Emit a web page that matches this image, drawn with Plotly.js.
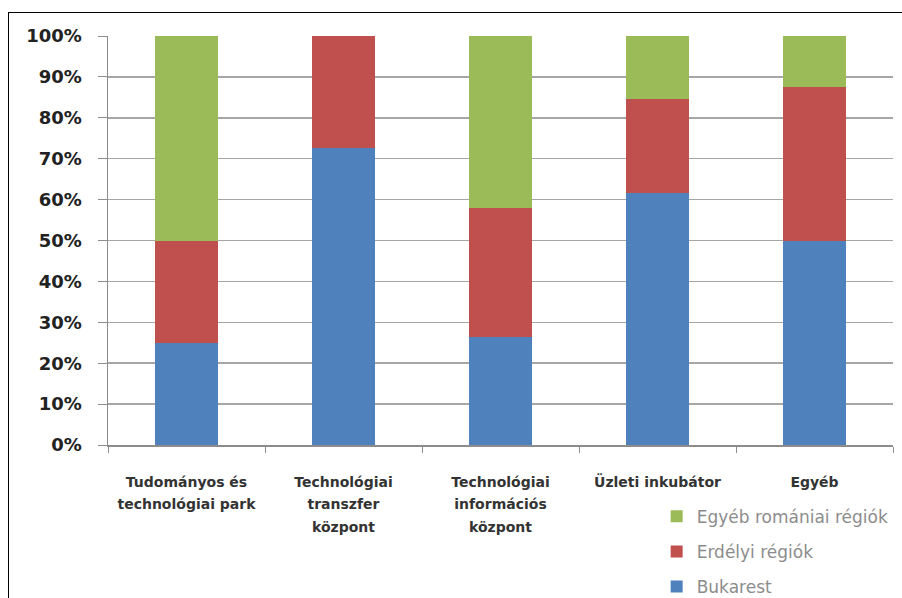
<!DOCTYPE html>
<html><head><meta charset="utf-8">
<script src="https://cdn.plot.ly/plotly-3.0.1.min.js"></script>
<style>
html,body{margin:0;padding:0;background:#fff;overflow:hidden;}
#frame{position:absolute;left:8px;top:12px;width:900px;height:600px;border-left:1.5px solid #000;border-top:1.5px solid #000;}
#chart{position:absolute;left:0;top:0;width:902px;height:598px;}
</style></head>
<body>
<div id="frame"></div>
<div id="chart"></div>
<script>
const categories = ["Tudományos és<br>technológiai park","Technológiai<br>transzfer<br>központ","Technológiai<br>információs<br>központ","Üzleti inkubátor","Egyéb"];
const bukarest = [25, 72.7, 26.3, 61.5, 50];
const erdelyi = [25, 27.3, 31.6, 23.1, 37.5];
const egyeb = [50, 0, 42.1, 15.4, 12.5];
const seriesNames = ["Bukarest","Erdélyi régiók","Egyéb romániai régiók"];
const colors = ["#4f81bd","#c0504d","#9bbb59"];
const yTicks = [0,10,20,30,40,50,60,70,80,90,100];

const data = [bukarest, erdelyi, egyeb].map((v,i)=>({
  type:"bar", x:categories, y:v, name:seriesNames[i], legendgroup:"g"+i,
  legendrank: 3-i,
  marker:{color:colors[i]}, hoverinfo:"none"
}));

const tickText = categories.map(c => c.split("<br>").map(l => '<span style="font-size:14px">'+l+'</span>').join("<br>"));

const layout = {
  width:902, height:598,
  margin:{l:108, r:9, t:36, b:153, autoexpand:false},
  paper_bgcolor:"rgba(0,0,0,0)", plot_bgcolor:"rgba(0,0,0,0)",
  barmode:"stack", bargap:0.6,
  font:{family:"DejaVu Sans, sans-serif"},
  xaxis:{
    type:"category", automargin:false, showline:true, linecolor:"#8c8c8c", linewidth:1.5,
    tickvals:categories, ticktext:tickText,
    ticks:"outside", tickson:"boundaries", ticklen:6, tickcolor:"#8c8c8c", tickwidth:1,
    tickfont:{family:"DejaVu Sans, sans-serif", size:17.5, color:"#333", weight:"bold"},
    ticklabelstandoff:19, tickangle:0, fixedrange:true
  },
  yaxis:{
    automargin:false,
    range:[0,100], tickvals:yTicks, ticktext:yTicks.map(t=>t+"%"),
    showgrid:true, gridcolor:"#a6a6a6", gridwidth:1.5,
    showline:true, linecolor:"#8c8c8c", linewidth:1.5,
    ticks:"outside", ticklen:9, tickcolor:"#8c8c8c",
    tickfont:{family:"DejaVu Sans, sans-serif", size:18, color:"#222", weight:"bold"},
    ticklabelstandoff:12, zeroline:false, fixedrange:true
  },
  showlegend:true,
  legend:{
    xref:"container", yref:"container",
    x:0.728, xanchor:"left", y:0.166, yanchor:"top",
    traceorder:"grouped", tracegroupgap:10,
    font:{family:"DejaVu Sans, sans-serif", size:17, color:"#8c8c8c"},
    bgcolor:"rgba(0,0,0,0)", itemwidth:30
  }
};
Plotly.newPlot("chart", data, layout, {staticPlot:true});
</script>
</body></html>
